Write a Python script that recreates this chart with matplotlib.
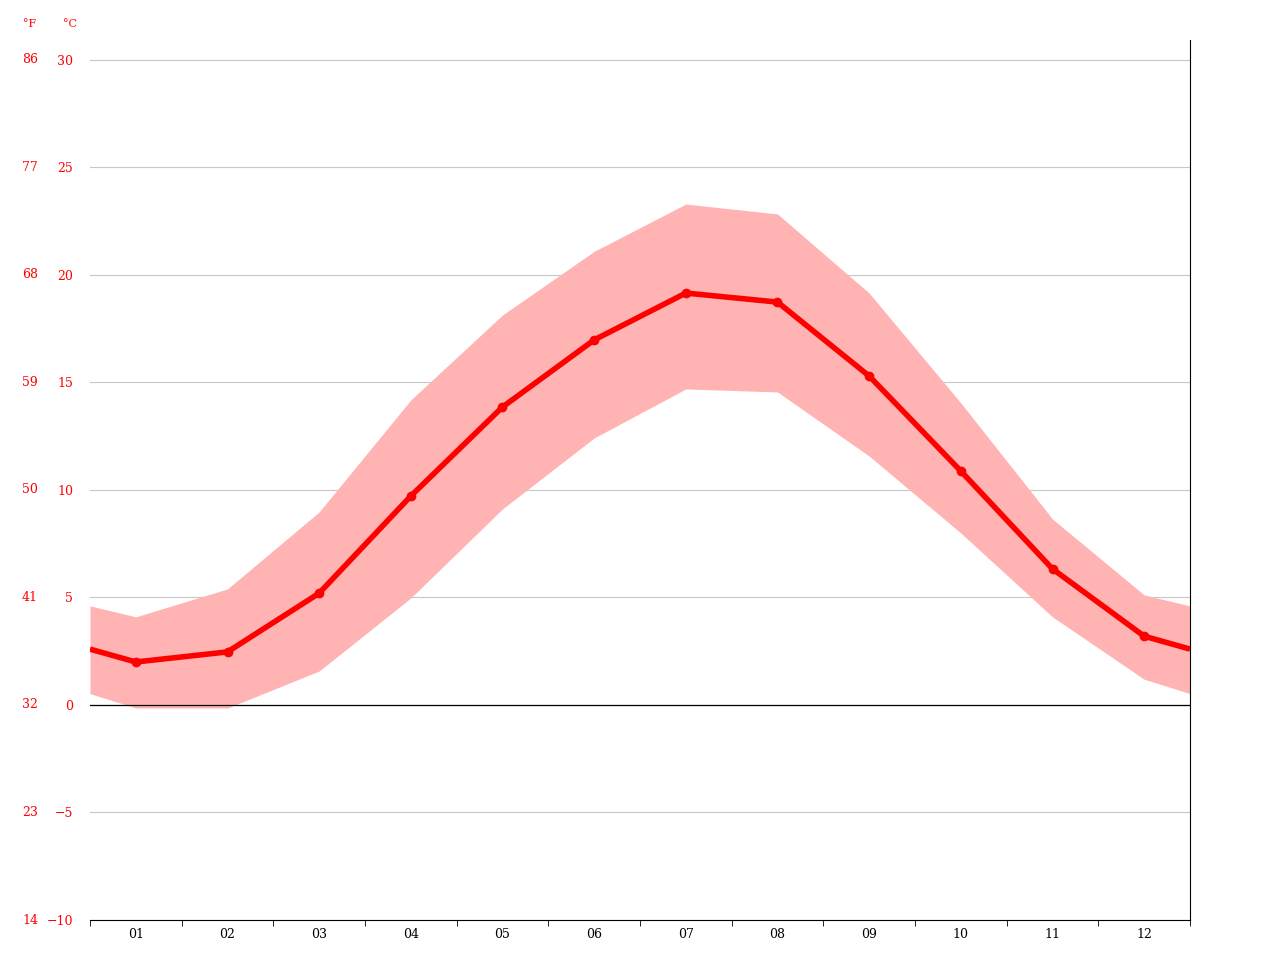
import numpy as np
import matplotlib.pyplot as plt

months = ['01', '02', '03', '04', '05', '06', '07', '08', '09', '10', '11', '12']
t_mean = [2.0, 2.47, 5.2, 9.72, 13.86, 16.98, 19.16, 18.74, 15.3, 10.88, 6.33, 3.2]
t_max = [4.1, 5.4, 8.98, 14.19, 18.14, 21.1, 23.3, 22.84, 19.16, 14.05, 8.65, 5.12]
t_min = [-0.14, -0.14, 1.58, 4.98, 9.12, 12.42, 14.7, 14.56, 11.58, 8.0, 4.1, 1.2]

x = np.arange(1, 13)
# wrap the year at the edges
xe = np.concatenate([[0.5], x, [12.5]])
def wrap(v):
    e = (v[0] + v[-1]) / 2
    return np.concatenate([[e], v, [e]])
mean_e, max_e, min_e = wrap(np.array(t_mean)), wrap(np.array(t_max)), wrap(np.array(t_min))

plt.rcParams['font.family'] = 'DejaVu Serif'
fig = plt.figure(figsize=(12.8, 9.6), dpi=100)
ax = fig.add_axes([90/1280, 40/960, 1100/1280, 880/960])

ax.fill_between(xe, min_e, max_e, color='#ffb3b3', lw=0)
ax.plot(xe, mean_e, color='#ff0000', lw=4, solid_capstyle='butt')
ax.plot(x, t_mean, 'o', color='#ff0000', ms=6)
ax.axhline(0, color='black', lw=0.9)

ax.set_xlim(0.5, 12.5)
ax.set_ylim(-10, 30.93)
yt = np.arange(-10, 31, 5)
ax.set_yticks(yt)
ax.yaxis.grid(True, color='#c8c8c8', lw=0.8)
ax.set_axisbelow(True)
ax.set_yticklabels([str(v).replace('-', '−') for v in yt], color='red', fontsize=9)
ax.tick_params(axis='y', length=0, pad=12)
for v in yt:
    ax.text(-60/1100 * 12 + 0.5, v, str(round(v * 9 / 5 + 32)), color='red', fontsize=9,
            ha='center', va='center', transform=ax.transData, clip_on=False)
ax.text(0.5 - 60/1100 * 12, 30.93 - 0.1 * 0 + 0.6, '°F', color='red', fontsize=8, ha='center')
ax.text(0.5 - 20/1100 * 12, 30.93 + 0.6, '°C', color='red', fontsize=8, ha='center')

ax.set_xticks(x)
ax.set_xticklabels(months, fontsize=9)
ax.set_xticks(np.arange(0.5, 12.6, 1), minor=True)
ax.tick_params(axis='x', which='major', length=0, pad=6)
ax.tick_params(axis='x', which='minor', length=4)
for s in ['top', 'left']:
    ax.spines[s].set_visible(False)
ax.spines['right'].set_color('black')
ax.spines['bottom'].set_color('black')

fig.savefig('out.png', dpi=100)
